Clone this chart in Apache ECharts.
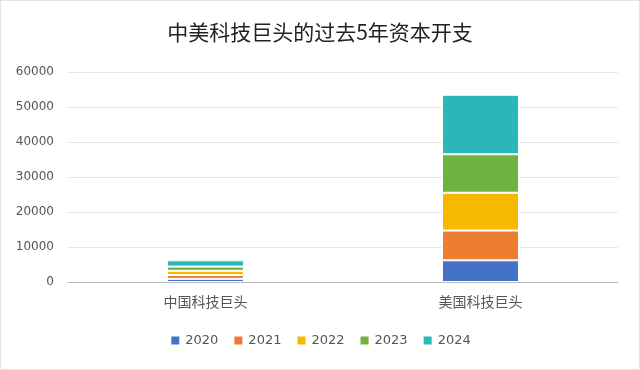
<!DOCTYPE html>
<html><head><meta charset="utf-8">
<script src="https://cdn.jsdelivr.net/npm/echarts@6/dist/echarts.min.js"></script>
<style>html,body{margin:0;padding:0;background:#fff}#c{width:640px;height:370px;box-sizing:border-box;border:1px solid #e4e4e8}</style>
</head><body><div id="c"></div>
<script>
const categories = ['中国科技巨头', '美国科技巨头'];
const years = ['2020', '2021', '2022', '2023', '2024'];
const v2020 = [900, 6200];
const v2021 = [1100, 8500];
const v2022 = [1200, 10800];
const v2023 = [1200, 11000];
const v2024 = [1800, 17000];
const yTicks = [0, 10000, 20000, 30000, 40000, 50000, 60000];
const seriesValues = [v2020, v2021, v2022, v2023, v2024];
const colors = ['#4472C4', '#ED7D31', '#F7B900', '#6DB33F', '#2BB7B7'];

const chart = echarts.init(document.getElementById('c'));
chart.setOption({
  animation: false,
  color: colors,
  title: {
    text: '中美科技巨头的过去5年资本开支',
    left: 'center', top: 16,
    textStyle: {fontFamily: 'Noto Sans CJK SC', fontSize: 21, fontWeight: 'normal', color: '#222'}
  },
  legend: {
    bottom: 17, left: 'center',
    itemWidth: 10, itemHeight: 10, itemGap: 14,
    icon: 'rect',
    textStyle: {fontFamily: 'DejaVu Sans', fontSize: 13, color: '#555'},
    data: years
  },
  grid: {left: 67, right: 21, top: 71, bottom: 87},
  xAxis: {
    type: 'category', data: categories,
    axisLine: {lineStyle: {color: '#bbb'}},
    axisTick: {show: false},
    axisLabel: {fontFamily: 'Noto Sans CJK SC', fontSize: 14, color: '#555', margin: 13}
  },
  yAxis: {
    type: 'value', min: yTicks[0], max: yTicks[yTicks.length - 1], interval: 10000,
    axisLine: {show: false}, axisTick: {show: false},
    splitLine: {lineStyle: {color: '#e6e6e6'}},
    axisLabel: {fontFamily: 'DejaVu Sans', fontSize: 12, color: '#555', margin: 14, formatter: v => String(v)}
  },
  series: years.map((y, i) => ({
    name: y, type: 'bar', stack: 'total', barWidth: '28%',
    data: seriesValues[i],
    itemStyle: {borderColor: '#fff', borderWidth: 1}
  }))
});
</script></body></html>
